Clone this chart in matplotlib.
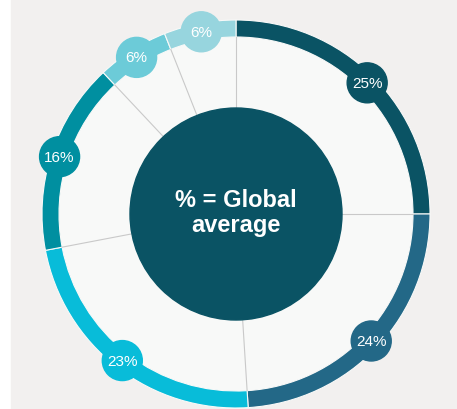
import numpy as np
import matplotlib.pyplot as plt
from matplotlib.patches import Circle, Rectangle

# Shares of each group, clockwise from the top
shares = [25, 24, 23, 16, 6, 6]
labels = ["25%", "24%", "23%", "16%", "6%", "6%"]
colors = ["#0a5364", "#236887", "#08bcd9", "#008fa0", "#6ccbd8", "#97d5de"]

W, H = 457, 410
cx, cy = 236, H - 215
r_out, ring_w, r_hub = 194, 17, 106
r_in = r_out - ring_w
FONT = ["Liberation Sans", "DejaVu Sans"]

fig = plt.figure(figsize=(W / 100, H / 100), dpi=100, facecolor="white")
ax = fig.add_axes([0, 0, 1, 1])

# panel background
ax.add_patch(Rectangle((11, 0), W - 11, H, color="#f2f0ef", zorder=0))
# light fill inside the ring
ax.add_patch(Circle((cx, cy), r_in, color="#f8f9f8", zorder=1))

# outer ring
ax.pie(shares, colors=colors, radius=r_out, center=(cx, cy), startangle=90,
       counterclock=False, frame=True,
       wedgeprops=dict(width=ring_w, edgecolor="#f8f9f8", linewidth=0.8))
ax.set_xlim(0, W)
ax.set_ylim(0, H)
ax.set_aspect("equal")
ax.axis("off")

# separators between groups
total = sum(shares)
bounds = np.cumsum([0] + shares) / total * 360
for b in bounds[:-1]:
    t = np.deg2rad(90 - b)
    ax.plot([cx, cx + r_in * np.cos(t)], [cy, cy + r_in * np.sin(t)],
            color="#c9c9c9", lw=0.8, zorder=2)

# centre hub
ax.add_patch(Circle((cx, cy), r_hub, color="#0a5364", zorder=3))
ax.text(cx, cy + 2, "% = Global\naverage", ha="center", va="center",
        color="white", fontsize=17, fontweight="bold", linespacing=1.1,
        family=FONT, zorder=4)

# value badges at the middle of each segment
r_mid = r_out - ring_w / 2
for i, (lab, col) in enumerate(zip(labels, colors)):
    mid = (bounds[i] + bounds[i + 1]) / 2
    t = np.deg2rad(90 - mid)
    bx, by = cx + r_mid * np.cos(t), cy + r_mid * np.sin(t)
    ax.add_patch(Circle((bx, by), 20, color=col, zorder=5))
    ax.text(bx, by, lab, ha="center", va="center", color="white",
            fontsize=11, family=FONT, zorder=6)

plt.savefig("out.png", dpi=100, facecolor=fig.get_facecolor())
